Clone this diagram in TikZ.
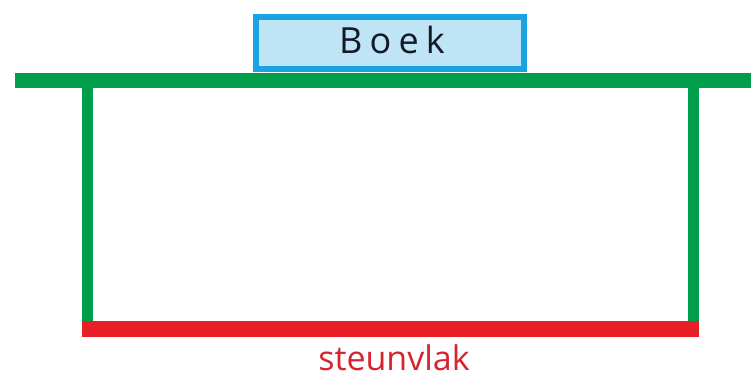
\documentclass[tikz,border=0pt]{standalone}
\usepackage{fontspec}
\setmainfont{Open Sans}
\newfontfamily\boekfont[LetterSpace=20]{Open Sans}
\definecolor{tablegreen}{RGB}{0,158,74}
\definecolor{bookblue}{RGB}{26,163,226}
\definecolor{booklight}{RGB}{190,228,246}
\definecolor{basered}{RGB}{232,30,40}
\definecolor{labelred}{RGB}{215,35,45}
\definecolor{booktext}{RGB}{20,25,40}
\tikzset{
  tableline/.style={draw=tablegreen, line width=15pt},
  legline/.style={draw=tablegreen, line width=11pt},
  baseline/.style={draw=basered, line width=16pt},
  bookbox/.style={draw=bookblue, fill=booklight, line width=6pt, minimum width=268pt, minimum height=52pt, inner sep=0pt},
}
\begin{document}
\begin{tikzpicture}[x=1pt,y=-1pt]
\useasboundingbox (0,0) rectangle (751,378);
% book
\node[bookbox] (boek) at (390,43) {};
\node[anchor=base, text=booktext, font=\boekfont\fontsize{36}{40}\selectfont] (boektext) at (392,53) {Boek};
% table
\coordinate (topL) at (15,80);
\coordinate (topR) at (751,80);
\coordinate (legLt) at (87.5,80);
\coordinate (legLb) at (87.5,321);
\coordinate (legRt) at (693,80);
\coordinate (legRb) at (693,321);
\coordinate (baseL) at (82,329);
\coordinate (baseR) at (699,329);
\draw[legline] (legLt) -- (legLb);
\draw[legline] (legRt) -- (legRb);
\draw[tableline] (topL) -- (topR);
\draw[baseline] (baseL) -- (baseR);
\node[anchor=base, text=labelred, font=\fontsize{34}{40}\selectfont] (steun) at (394,370) {steunvlak};
\end{tikzpicture}
\end{document}
